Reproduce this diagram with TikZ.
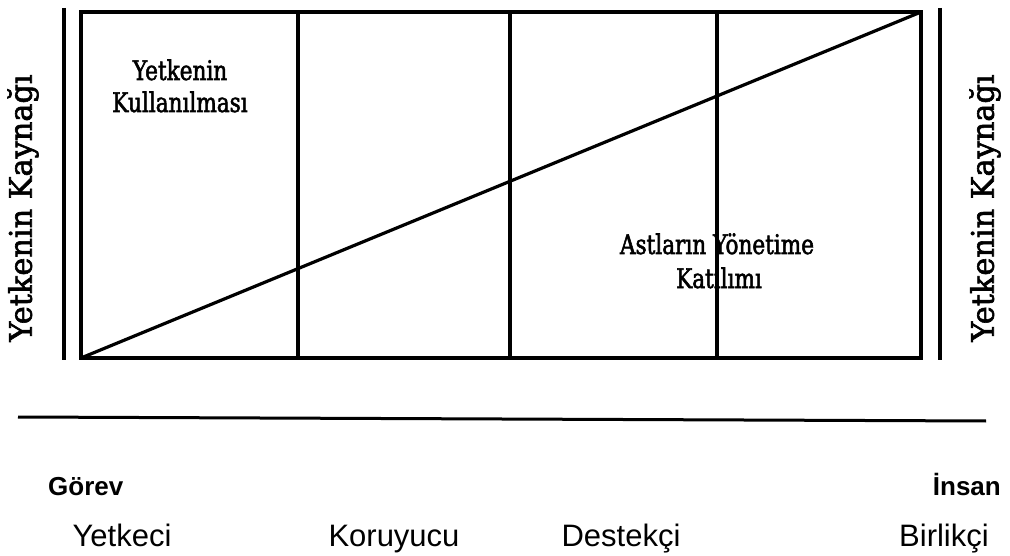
\documentclass[tikz,border=0pt]{standalone}
\usepackage{fontspec}
\setmainfont{Liberation Sans}
\newfontfamily\slab[FakeStretch=0.8,FakeBold=2]{DejaVu Serif}
\newfontfamily\slabwide[FakeStretch=0.98,FakeBold=2]{DejaVu Serif}
\begin{document}
\begin{tikzpicture}[x=1pt,y=-1pt,
  frame/.style={line width=3.2pt},
  thinframe/.style={line width=3.2pt},
  inlabel/.style={font=\slab\fontsize{27}{30}\selectfont, inner sep=0pt, align=center},
  sidelabel/.style={font=\slabwide\fontsize{31}{34}\selectfont, inner sep=0pt, rotate=90},
  bottomword/.style={font=\fontsize{31}{34}\selectfont, inner sep=0pt, anchor=base},
  endword/.style={font=\bfseries\fontsize{26}{28}\selectfont, inner sep=0pt}
]
\useasboundingbox (0,0) rectangle (1010,556);
% corners
\coordinate (bl) at (81,358);
\coordinate (tr) at (921,12);
\coordinate (tl) at (81,12);
\coordinate (br) at (921,358);
\draw[frame] (tl) rectangle (br);
% inner dividers
\coordinate (d1t) at (298,12); \coordinate (d1b) at (298,358);
\coordinate (d2t) at (510,12); \coordinate (d2b) at (510,358);
\coordinate (d3t) at (717,12); \coordinate (d3b) at (717,358);
\draw[thinframe] (d1t) -- (d1b);
\draw[thinframe] (d2t) -- (d2b);
\draw[thinframe] (d3t) -- (d3b);
% diagonal
\draw[frame] (bl) -- (tr);
% outer side bars
\coordinate (lbt) at (64,8); \coordinate (lbb) at (64,360);
\coordinate (rbt) at (940,8); \coordinate (rbb) at (940,360);
\draw[thinframe] (lbt) -- (lbb);
\draw[thinframe] (rbt) -- (rbb);
% side labels
\node[sidelabel] (lside) at (23,208) {Yetkenin Kaynağı};
\node[sidelabel] (rside) at (985,208) {Yetkenin Kaynağı};
% inner labels
\node[inlabel, anchor=base] (use1) at (180,80) {Yetkenin};
\node[inlabel, anchor=base] (use2) at (180,112) {Kullanılması};
\node[inlabel, anchor=base] (part1) at (717,254) {Astların Yönetime};
\node[inlabel, anchor=base] (part2) at (719,288) {Katılımı};
% separator line
\coordinate (sl) at (18,417);
\coordinate (sr) at (986,421);
\draw[line width=3pt] (sl) -- (sr);
% ends
\node[endword, anchor=base west] (gorev) at (48,495) {Görev};
\node[endword, anchor=base east] (insan) at (1001,495) {İnsan};
% styles
\node[bottomword] (s1) at (122,546) {Yetkeci};
\node[bottomword] (s2) at (394,546) {Koruyucu};
\node[bottomword] (s3) at (621,546) {Destekçi};
\node[bottomword] (s4) at (944,546) {Birlikçi};
\end{tikzpicture}
\end{document}
